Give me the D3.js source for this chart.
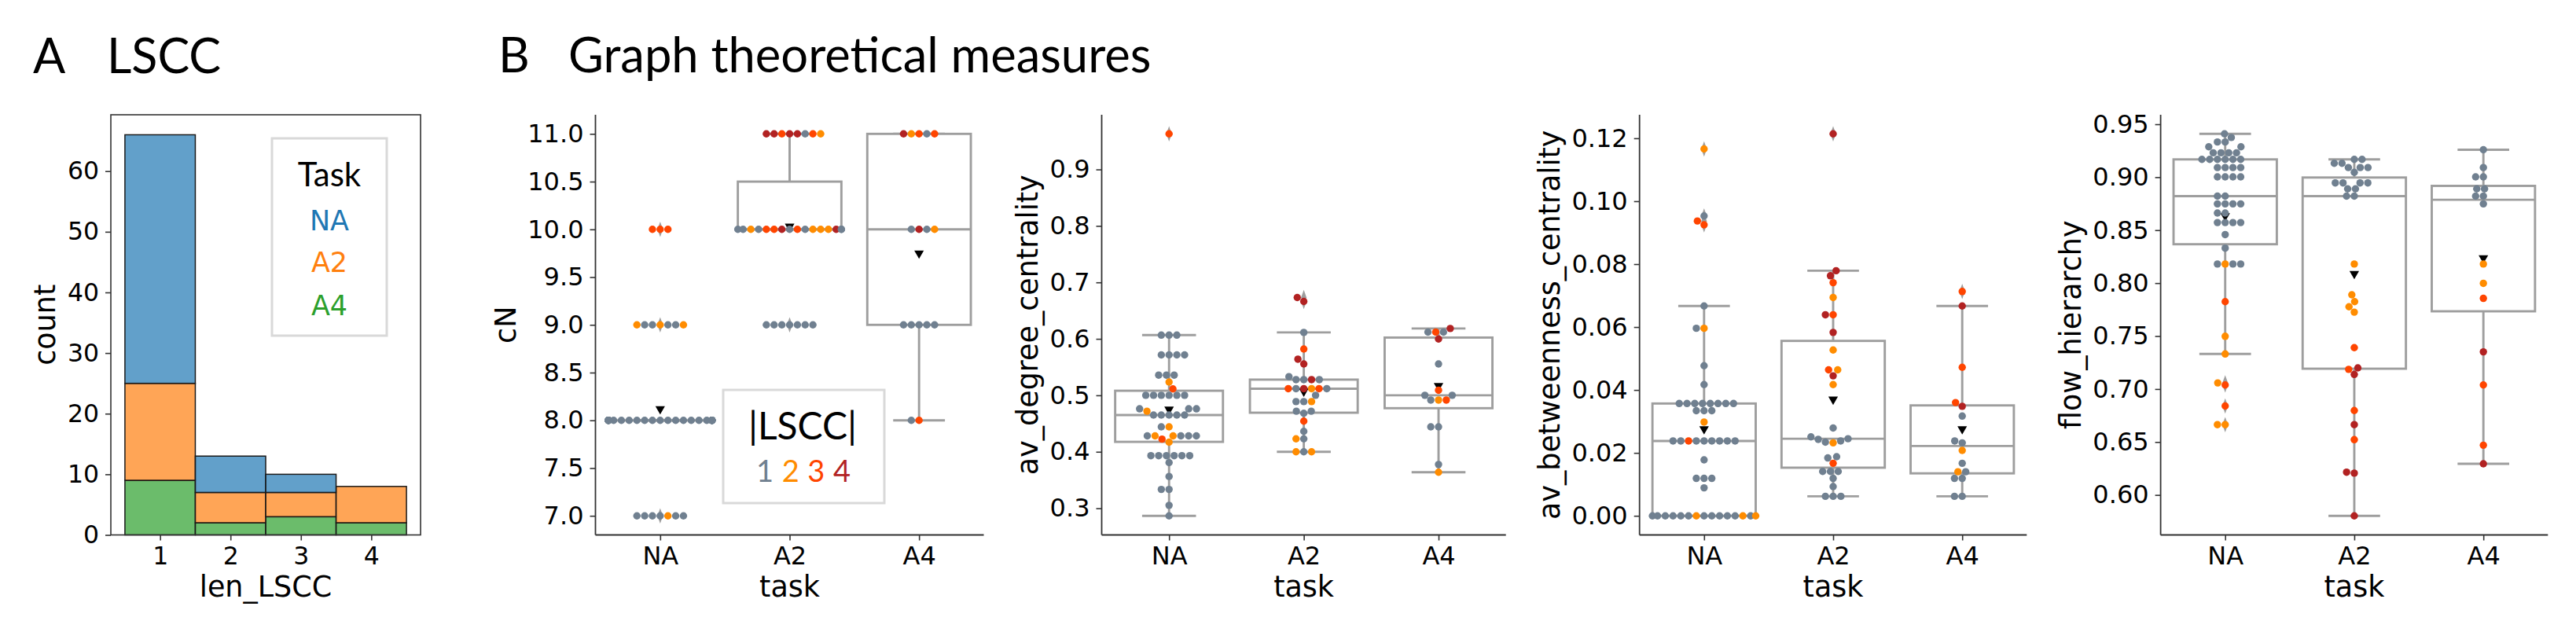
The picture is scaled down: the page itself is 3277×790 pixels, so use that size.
<!DOCTYPE html>
<html>
<head>
<meta charset="utf-8">
<script src="https://cdn.jsdelivr.net/npm/d3@7"></script>
<style>
  body { margin: 0; background: #fff; }
  text { font-family: "DejaVu Sans", sans-serif; fill: #000; }
  .cal { font-family: Lato, "Open Sans", sans-serif; }
</style>
</head>
<body>
<svg id="fig" width="3277" height="790" xmlns="http://www.w3.org/2000/svg"></svg>
<script>
// ---------- values ----------
const tasks = ["NA", "A2", "A4"];

// panel A: stacked histogram of len_LSCC
const lsccBins = [1, 2, 3, 4];
const histNA = [41, 6, 3, 0];
const histA2 = [16, 5, 4, 6];
const histA4 = [9, 2, 3, 2];
const histYTicks = [0, 10, 20, 30, 40, 50, 60];

// panel B: each row = [value, |LSCC| of the points at that value, left to right]
const cnNA = [
  [10, [3, 3, 3]],
  [9, [2, 1, 1, 2, 1, 1, 2]],
  [8, [1, 1, 1, 1, 1, 1, 1, 1, 1, 1, 1, 1, 1, 1, 1, 1, 1, 1, 1, 1, 1, 1, 1, 1, 1, 1, 1, 1, 1, 1, 1, 1, 1]],
  [7, [1, 1, 1, 1, 2, 1, 1]]
];
const cnA2 = [
  [11, [4, 4, 3, 4, 4, 1, 3, 2]],
  [10, [1, 1, 2, 1, 3, 3, 4, 1, 3, 1, 2, 2, 2, 4, 1, 1]],
  [9, [1, 1, 1, 1, 1, 1, 1]]
];
const cnA4 = [
  [11, [4, 2, 3, 1, 3]],
  [10, [1, 4, 1, 2]],
  [9, [1, 1, 1, 1, 1]],
  [8, [1, 3]]
];

const degNA = [
  [0.963, [3]],
  [0.6066, [1, 1, 1]],
  [0.5715, [1, 1, 1, 1]],
  [0.5358, [1, 1, 1]],
  [0.5235, [2]],
  [0.5113, [3]],
  [0.500, [1, 1, 1, 1, 1, 1]],
  [0.4761, [1, 1, 1]],
  [0.4719, [2]],
  [0.465, [1, 1, 1, 1, 1]],
  [0.4442, [1, 2]],
  [0.4282, [1, 2, 2, 1, 1, 1]],
  [0.4224, [3]],
  [0.417, [2]],
  [0.3931, [1, 1, 1, 1, 1, 1]],
  [0.3808, [1]],
  [0.3563, [1]],
  [0.3334, [1, 1]],
  [0.3052, [1]],
  [0.2866, [1]]
];
const degA2 = [
  [0.6732, [4]],
  [0.6662, [4]],
  [0.6114, [1]],
  [0.582, [3]],
  [0.564, [4]],
  [0.5555, [4]],
  [0.5331, [1]],
  [0.5278, [1, 1, 4, 1]],
  [0.5118, [3, 1, 4, 2, 3, 1]],
  [0.5001, [1]],
  [0.4889, [1, 1, 2]],
  [0.4719, [1, 1]],
  [0.4682, [1]],
  [0.4543, [3]],
  [0.4362, [1]],
  [0.4229, [2, 1]],
  [0.4, [2, 1, 2]]
];
const degA4 = [
  [0.6183, [4]],
  [0.6119, [1, 3, 1]],
  [0.5997, [4]],
  [0.5555, [1]],
  [0.509, [3]],
  [0.5001, [1, 1]],
  [0.4916, [1, 2, 3]],
  [0.4442, [1, 1]],
  [0.3776, [1]],
  [0.3638, [2]]
];

const btwNA = [
  [0.1166, [2]],
  [0.0953, [1]],
  [0.0937, [3]],
  [0.0925, [3]],
  [0.0667, [1]],
  [0.0596, [1, 2]],
  [0.0477, [1]],
  [0.0417, [1]],
  [0.0357, [1, 1, 1, 1, 1, 1, 1, 1]],
  [0.0334, [1, 1, 1]],
  [0.0298, [2]],
  [0.0238, [1, 1, 3, 1, 1, 1, 1, 1, 1]],
  [0.0178, [1]],
  [0.0119, [1, 1, 1]],
  [0.0089, [1]],
  [0, [1, 1, 1, 1, 1, 1, 2, 1, 1, 1, 1, 1, 2, 1, 2]]
];
const btwA2 = [
  [0.1214, [4]],
  [0.0779, [4]],
  [0.0763, [4]],
  [0.0741, [3]],
  [0.0694, [2]],
  [0.0639, [4, 3]],
  [0.0583, [4]],
  [0.0527, [2]],
  [0.0464, [3, 2]],
  [0.0445, [4]],
  [0.0417, [2]],
  [0.0279, [1]],
  [0.0251, [1]],
  [0.0245, [1]],
  [0.0243, [1]],
  [0.0238, [1]],
  [0.0234, [1]],
  [0.0232, [2]],
  [0.0188, [1]],
  [0.0184, [1]],
  [0.0167, [3]],
  [0.0141, [1, 1, 1]],
  [0.0119, [1]],
  [0.0093, [1]],
  [0.0062, [1, 1, 1]]
];
const btwA4 = [
  [0.0713, [3]],
  [0.0667, [4]],
  [0.0472, [3]],
  [0.036, [3]],
  [0.0348, [4]],
  [0.0317, [1]],
  [0.0238, [1]],
  [0.0232, [1]],
  [0.0208, [2]],
  [0.0167, [1]],
  [0.014, [2, 1]],
  [0.0119, [1, 1]],
  [0.0062, [1, 1]]
];

const flowNA = [
  [0.9409, [1]],
  [0.9375, [1]],
  [0.9332, [1, 1]],
  [0.9287, [1, 1]],
  [0.923, [1, 1, 1, 1]],
  [0.9168, [1, 1, 1, 1, 1, 1]],
  [0.9091, [1, 1, 1, 1]],
  [0.9003, [1, 1, 1, 1]],
  [0.8821, [1, 1]],
  [0.8748, [1, 1, 1, 1]],
  [0.8662, [1, 1]],
  [0.8572, [1, 1, 1, 1]],
  [0.8458, [1]],
  [0.833, [1]],
  [0.818, [1, 2, 1, 1]],
  [0.7825, [3]],
  [0.7498, [2]],
  [0.7331, [2]],
  [0.7058, [2]],
  [0.7038, [3]],
  [0.684, [3]],
  [0.6664, [2, 2]]
];
const flowA2 = [
  [0.9168, [1, 1]],
  [0.9131, [1, 1]],
  [0.9091, [1, 1, 1]],
  [0.9046, [1]],
  [0.8946, [1, 1, 1, 1]],
  [0.889, [1, 1]],
  [0.8821, [1, 1]],
  [0.818, [2]],
  [0.789, [2]],
  [0.7825, [2]],
  [0.7777, [2]],
  [0.7726, [2]],
  [0.7391, [3]],
  [0.72, [4]],
  [0.7186, [3]],
  [0.7138, [4]],
  [0.6797, [3]],
  [0.6664, [4]],
  [0.6522, [3]],
  [0.6215, [4]],
  [0.6206, [4]],
  [0.5803, [4]]
];
const flowA4 = [
  [0.9259, [1]],
  [0.9091, [1]],
  [0.9003, [1, 1]],
  [0.889, [1, 1]],
  [0.8821, [1, 1]],
  [0.8748, [1]],
  [0.818, [2]],
  [0.7998, [2]],
  [0.7856, [3]],
  [0.7351, [4]],
  [0.7038, [3]],
  [0.647, [3]],
  [0.6294, [4]]
];

// box statistics per task (NA, A2, A4)
const cnBox = [
  { q1: 8, med: 8, q3: 8, lo: 8, hi: 8, mean: 8.12 },
  { q1: 10, med: 10, q3: 10.5, lo: 10, hi: 11, mean: 10.03 },
  { q1: 9, med: 10, q3: 11, lo: 8, hi: 11, mean: 9.75 }
];
const degBox = [
  { q1: 0.4176, med: 0.465, q3: 0.5081, lo: 0.2866, hi: 0.6066, mean: 0.475 },
  { q1: 0.4692, med: 0.5118, q3: 0.5278, lo: 0.4, hi: 0.6114, mean: 0.507 },
  { q1: 0.4772, med: 0.5001, q3: 0.6023, lo: 0.3638, hi: 0.6183, mean: 0.517 }
];
const btwBox = [
  { q1: 0, med: 0.0238, q3: 0.0357, lo: 0, hi: 0.0667, mean: 0.0276 },
  { q1: 0.0153, med: 0.0245, q3: 0.0556, lo: 0.0062, hi: 0.0779, mean: 0.037 },
  { q1: 0.0135, med: 0.0222, q3: 0.0351, lo: 0.0062, hi: 0.0667, mean: 0.0276 }
];
const flowBox = [
  { q1: 0.8367, med: 0.8821, q3: 0.9168, lo: 0.7331, hi: 0.9409, mean: 0.8634 },
  { q1: 0.7192, med: 0.8821, q3: 0.8997, lo: 0.5803, hi: 0.9168, mean: 0.8089 },
  { q1: 0.7734, med: 0.8787, q3: 0.8918, lo: 0.6294, hi: 0.9259, mean: 0.8237 }
];

const cnTicks = [7.0, 7.5, 8.0, 8.5, 9.0, 9.5, 10.0, 10.5, 11.0];
const degTicks = [0.3, 0.4, 0.5, 0.6, 0.7, 0.8, 0.9];
const btwTicks = [0, 0.02, 0.04, 0.06, 0.08, 0.10, 0.12];
const flowTicks = [0.60, 0.65, 0.70, 0.75, 0.80, 0.85, 0.90, 0.95];

// ---------- styles ----------
const taskColors = { NA: "#1f77b4", A2: "#ff7f0e", A4: "#2ca02c" };
const lsccColors = { 1: "#708090", 2: "#ff8c00", 3: "#ff4500", 4: "#b22222" };
const boxGray = "#9e9e9e";
const spineColor = "#333";
const tickFont = 32, labelFont = 36.5;
const plotTop = 146, plotBottom = 680.5;
const dotR = 4.7;

const svg = d3.select("#fig");

function styleAxis(g, size) {
  g.select(".domain").remove();
  g.selectAll(".tick line").attr("stroke", spineColor).attr("stroke-width", 1.6);
  g.selectAll(".tick text").attr("font-size", size).attr("fill", "#000");
}

function yLabel(g, axisG, left, text) {
  const bb = axisG.node().getBBox();
  g.append("text")
    .attr("transform", `translate(${left + bb.x - 28},${(plotTop + plotBottom) / 2}) rotate(-90)`)
    .attr("text-anchor", "middle")
    .attr("dominant-baseline", "central")
    .attr("font-size", labelFont)
    .text(text);
}

// ---------- titles ----------
svg.append("text").attr("class", "cal").attr("x", 42).attr("y", 93).attr("font-size", 61).text("A");
svg.append("text").attr("class", "cal").attr("x", 136).attr("y", 93).attr("font-size", 61).text("LSCC");
svg.append("text").attr("class", "cal").attr("x", 634).attr("y", 92).attr("font-size", 61.5).text("B");
svg.append("text").attr("class", "cal").attr("x", 723).attr("y", 92).attr("font-size", 61.5).text("Graph theoretical measures");

// ---------- panel A ----------
const A = { left: 141, right: 535 };
const histRows = lsccBins.map((b, i) => ({ bin: b, NA: histNA[i], A2: histA2[i], A4: histA4[i] }));
const stacked = d3.stack().keys(["A4", "A2", "NA"])(histRows);
const binLo = d3.min(lsccBins) - 0.5, binHi = d3.max(lsccBins) + 0.5;
const hx = d3.scaleLinear()
  .domain([binLo - (binHi - binLo) * 0.05, binHi + (binHi - binLo) * 0.05])
  .range([A.left, A.right]);
const hy = d3.scaleLinear()
  .domain([0, d3.max(histRows, d => d.NA + d.A2 + d.A4) * 1.05])
  .range([plotBottom, plotTop]);

const gA = svg.append("g");
gA.selectAll("g.layer").data(stacked).join("g")
  .attr("class", "layer")
  .attr("fill", d => taskColors[d.key])
  .selectAll("rect").data(d => d).join("rect")
  .attr("x", d => hx(d.data.bin - 0.5))
  .attr("width", d => hx(d.data.bin + 0.5) - hx(d.data.bin - 0.5))
  .attr("y", d => hy(d[1]))
  .attr("height", d => hy(d[0]) - hy(d[1]))
  .attr("fill-opacity", 0.7)
  .attr("stroke", "#1a1a1a")
  .attr("stroke-width", 1.5);

gA.append("rect")
  .attr("x", A.left).attr("y", plotTop)
  .attr("width", A.right - A.left).attr("height", plotBottom - plotTop)
  .attr("fill", "none").attr("stroke", spineColor).attr("stroke-width", 1.6);

const axAy = gA.append("g").attr("transform", `translate(${A.left},0)`)
  .call(d3.axisLeft(hy).tickValues(histYTicks).tickSize(7).tickPadding(8));
styleAxis(axAy, 31.5);
const axAx = gA.append("g").attr("transform", `translate(0,${plotBottom})`)
  .call(d3.axisBottom(hx).tickValues(lsccBins).tickSize(7).tickPadding(8).tickFormat(d3.format("d")));
styleAxis(axAx, 31.5);
yLabel(gA, axAy, A.left, "count");
gA.append("text").attr("x", (A.left + A.right) / 2).attr("y", 759)
  .attr("text-anchor", "middle").attr("font-size", labelFont).text("len_LSCC");

// legend A
gA.append("rect").attr("x", 346).attr("y", 176).attr("width", 146).attr("height", 251)
  .attr("fill", "#fff").attr("stroke", "#d9d9d9").attr("stroke-width", 3);
gA.append("text").attr("class", "cal").attr("x", 419).attr("y", 237)
  .attr("text-anchor", "middle").attr("font-size", 42).text("Task");
tasks.forEach((t, i) => {
  gA.append("text").attr("x", 419).attr("y", [293, 346, 401][i])
    .attr("text-anchor", "middle").attr("font-size", 35)
    .style("fill", taskColors[t]).text(t);
});

// ---------- beeswarm (seaborn-like) ----------
function swarm(rows, y, cx, half, r) {
  const pts = [];
  rows.forEach((row, gi) => row[1].forEach(c => pts.push({ v: row[0], c: c, g: gi, y: y(row[0]) })));
  const order = pts.slice().sort((a, b) => a.v - b.v);
  const d = 2 * r;
  const placed = [];
  order.forEach((p, i) => {
    if (i === 0) { p.x = cx; placed.push(p); return; }
    const nb = [];
    for (let j = placed.length - 1; j >= 0; j--) {
      if (Math.abs(p.y - placed[j].y) < d) nb.push(placed[j]); else break;
    }
    let cands = [cx];
    let leftFirst = true;
    nb.forEach(q => {
      const dy = p.y - q.y;
      const dx = Math.sqrt(Math.max(d * d - dy * dy, 0)) * 1.05;
      if (leftFirst) cands.push(q.x - dx, q.x + dx); else cands.push(q.x + dx, q.x - dx);
      leftFirst = !leftFirst;
    });
    cands = cands.map((x, k) => ({ x, k }))
      .sort((a, b) => (Math.abs(a.x - cx) - Math.abs(b.x - cx)) || (a.k - b.k));
    let chosen = cx;
    for (const c of cands) {
      if (nb.every(q => (q.x - c.x) ** 2 + (q.y - p.y) ** 2 >= d * d - 1e-6)) { chosen = c.x; break; }
    }
    p.x = chosen;
    placed.push(p);
  });
  pts.forEach(p => { p.x = Math.max(cx - half, Math.min(cx + half, p.x)); });
  // points that share a value keep the left-to-right colour order of the row
  d3.group(pts, p => p.g).forEach(list => {
    const xs = list.map(p => p.x).sort((a, b) => a - b);
    list.forEach((p, k) => { p.x = xs[k]; });
  });
  return pts;
}

// ---------- panel B ----------
const panelsB = [
  { label: "cN", left: 757.5, right: 1251.5, groups: [cnNA, cnA2, cnA4], box: cnBox, ticks: cnTicks, fmt: ".1f" },
  { label: "av_degree_centrality", left: 1401.5, right: 1915.7, groups: [degNA, degA2, degA4], box: degBox, ticks: degTicks, fmt: ".1f" },
  { label: "av_betweenness_centrality", left: 2085.7, right: 2578.3, groups: [btwNA, btwA2, btwA4], box: btwBox, ticks: btwTicks, fmt: ".2f" },
  { label: "flow_hierarchy", left: 2748.6, right: 3241.3, groups: [flowNA, flowA2, flowA4], box: flowBox, ticks: flowTicks, fmt: ".2f" }
];

const diamond = d3.symbol(d3.symbolDiamond, 110)();
const triDown = d3.symbol(d3.symbolTriangle, 64)();

panelsB.forEach(P => {
  const g = svg.append("g");
  const vals = P.groups.flatMap(rows => rows.map(r => r[0]));
  const vmin = d3.min(vals), vmax = d3.max(vals), pad = (vmax - vmin) * 0.05;
  const y = d3.scaleLinear().domain([vmin - pad, vmax + pad]).range([plotBottom, plotTop]);
  const x = d3.scalePoint().domain(tasks).range([P.left, P.right]).padding(0.5);
  const bw = x.step() * 0.8;

  tasks.forEach((t, i) => {
    const s = P.box[i], cx = x(t);
    const bg = g.append("g").attr("stroke", boxGray).attr("stroke-width", 2.9).attr("fill", "none");
    bg.append("line").attr("x1", cx).attr("x2", cx).attr("y1", y(s.q3)).attr("y2", y(s.hi));
    bg.append("line").attr("x1", cx).attr("x2", cx).attr("y1", y(s.q1)).attr("y2", y(s.lo));
    bg.append("line").attr("x1", cx - bw / 4).attr("x2", cx + bw / 4).attr("y1", y(s.hi)).attr("y2", y(s.hi));
    bg.append("line").attr("x1", cx - bw / 4).attr("x2", cx + bw / 4).attr("y1", y(s.lo)).attr("y2", y(s.lo));
    bg.append("rect").attr("x", cx - bw / 2).attr("width", bw)
      .attr("y", y(s.q3)).attr("height", y(s.q1) - y(s.q3)).attr("fill", "#fff");
    bg.append("line").attr("x1", cx - bw / 2).attr("x2", cx + bw / 2).attr("y1", y(s.med)).attr("y2", y(s.med));

    // outliers beyond whiskers
    const fl = P.groups[i].map(r => r[0]).filter(v => v < s.lo || v > s.hi);
    g.selectAll(null).data(fl).join("path")
      .attr("d", diamond)
      .attr("transform", v => `translate(${cx},${y(v)}) scale(0.62,1)`)
      .attr("fill", boxGray);

    g.append("path").attr("d", triDown)
      .attr("transform", `translate(${cx},${y(s.mean)}) rotate(180)`)
      .attr("fill", "#000");

    const pts = swarm(P.groups[i], y, cx, bw / 2, dotR);
    g.selectAll(null).data(pts).join("circle")
      .attr("cx", p => p.x).attr("cy", p => p.y).attr("r", dotR)
      .attr("fill", p => lsccColors[p.c]);
  });

  const ay = g.append("g").attr("transform", `translate(${P.left},0)`)
    .call(d3.axisLeft(y).tickValues(P.ticks).tickFormat(d3.format(P.fmt)).tickSize(7).tickPadding(8));
  styleAxis(ay, tickFont);
  const ax = g.append("g").attr("transform", `translate(0,${plotBottom})`)
    .call(d3.axisBottom(x).tickSize(7).tickPadding(8));
  styleAxis(ax, tickFont);

  g.append("line").attr("x1", P.left).attr("x2", P.left).attr("y1", plotTop).attr("y2", plotBottom)
    .attr("stroke", spineColor).attr("stroke-width", 1.8);
  g.append("line").attr("x1", P.left).attr("x2", P.right).attr("y1", plotBottom).attr("y2", plotBottom)
    .attr("stroke", spineColor).attr("stroke-width", 1.8);

  yLabel(g, ay, P.left, P.label);
  g.append("text").attr("x", (P.left + P.right) / 2).attr("y", 759)
    .attr("text-anchor", "middle").attr("font-size", labelFont).text("task");
});

// legend for |LSCC| colours in the cN panel
const lg = svg.append("g");
lg.append("rect").attr("x", 920).attr("y", 496).attr("width", 205).attr("height", 144)
  .attr("fill", "#fff").attr("stroke", "#d9d9d9").attr("stroke-width", 3);
lg.append("text").attr("class", "cal").attr("x", 1021).attr("y", 559)
  .attr("text-anchor", "middle").attr("font-size", 48).text("|LSCC|");
[1, 2, 3, 4].forEach((k, i) => {
  lg.append("text").attr("class", "cal").attr("x", 1022 + (i - 1.5) * 32.7).attr("y", 613)
    .attr("text-anchor", "middle").attr("font-size", 38)
    .style("fill", lsccColors[k]).text(k);
});
</script>
</body>
</html>
